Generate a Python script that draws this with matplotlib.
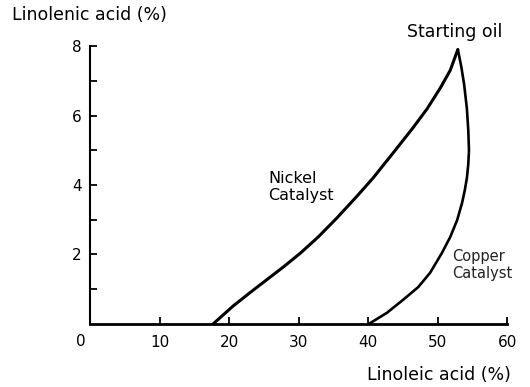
import matplotlib
matplotlib.use("Agg")
import matplotlib.pyplot as plt

# ---------- datos ----------
nickel_x = [17.7, 20.6, 23.0, 25.4, 27.8, 30.2, 32.8, 35.5, 38.4, 40.7, 43.5,
            46.5, 48.5, 50.4, 51.8, 52.9]
nickel_y = [0.0, 0.52, 0.9, 1.27, 1.64, 2.03, 2.5, 3.05, 3.68, 4.2, 4.9,
            5.66, 6.2, 6.8, 7.3, 7.9]

copper_x = [52.9, 53.4, 53.8, 54.2, 54.4, 54.5, 54.4, 54.2, 53.9, 53.5, 52.8, 51.8,
            50.6, 48.9, 47.2, 45.0, 42.7, 40.1]
copper_y = [7.9, 7.4, 6.9, 6.2, 5.57, 5.0, 4.6, 4.2, 3.85, 3.48, 2.99, 2.5,
            2.04, 1.47, 1.06, 0.69, 0.32, 0.0]

x_ticks = [0, 10, 20, 30, 40, 50, 60]
y_major = [2, 4, 6, 8]
y_minor = [1, 3, 5, 7]

# ---------- figura ----------
fig = plt.figure(figsize=(5.3, 3.87), dpi=100)
ax = fig.add_axes([0.170, 0.163, 0.787, 0.718])

ax.plot(nickel_x, nickel_y, color="black", lw=2.2, solid_capstyle="round",
        solid_joinstyle="round")
ax.plot(copper_x, copper_y, color="black", lw=1.9, solid_capstyle="round",
        solid_joinstyle="round")

ax.set_xlim(0, 60)
ax.set_ylim(0, 8)
for s in ("top", "right"):
    ax.spines[s].set_visible(False)
ax.spines["left"].set_linewidth(1.5)
ax.spines["bottom"].set_linewidth(2.0)

ax.set_xticks(x_ticks)
ax.set_xticklabels([""] + [str(v) for v in x_ticks[1:]])
ax.set_yticks(y_major)
ax.set_yticklabels([str(v) for v in y_major])
ax.set_yticks(y_minor, minor=True)
ax.tick_params(axis="both", which="both", direction="in", length=5, width=1.3,
               labelsize=11, pad=6, colors="black")
ax.tick_params(axis="x", pad=8)

# "0" del origen, un poco a la izquierda como en el original
ax.text(-1.4, -0.3, "0", ha="center", va="top", fontsize=11)

# títulos de ejes
fig.text(0.022, 0.962, "Linolenic acid (%)", ha="left", va="center", fontsize=12.5)
fig.text(0.963, 0.031, "Linoleic acid (%)", ha="right", va="center", fontsize=12.5)

# anotaciones
ax.text(45.6, 8.4, "Starting oil", ha="left", va="center", fontsize=12.5)
ax.text(25.6, 3.94, "Nickel\nCatalyst", ha="left", va="center", fontsize=11.5,
        linespacing=1.15)
ax.text(52.1, 1.7, "Copper\nCatalyst", ha="left", va="center", fontsize=10.5,
        linespacing=1.15, color="#222222")

fig.savefig("out.png", dpi=100)
